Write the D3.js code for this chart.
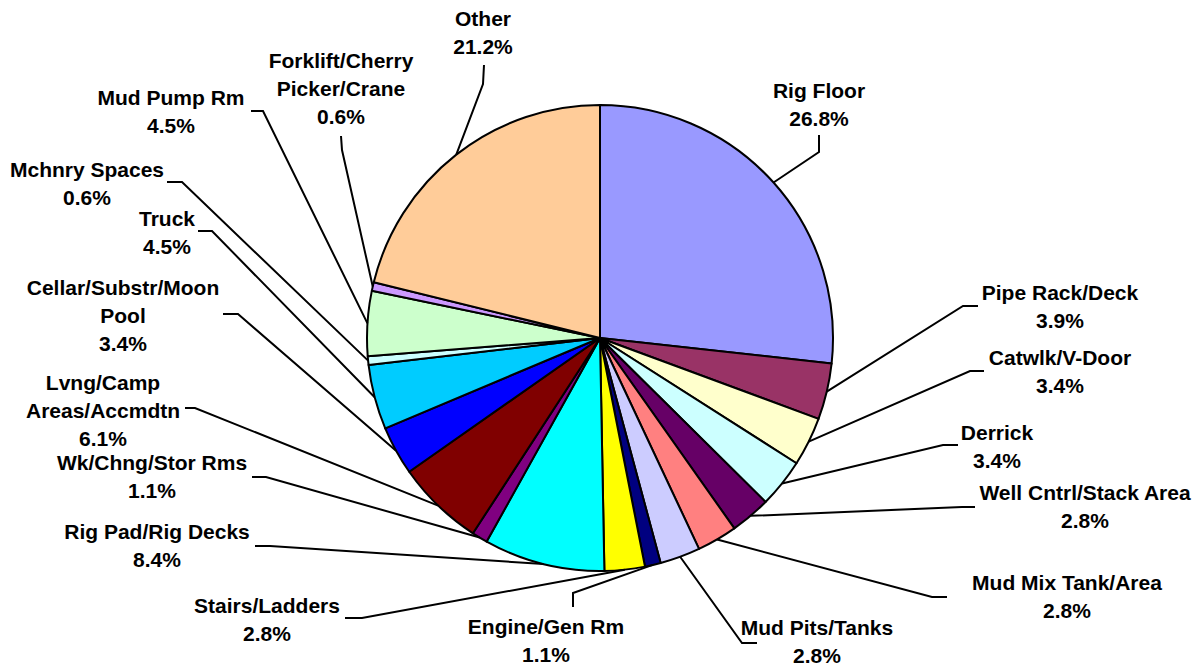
<!DOCTYPE html>
<html>
<head>
<meta charset="utf-8">
<script src="https://cdn.jsdelivr.net/npm/d3@7"></script>
<style>
  html, body { margin: 0; padding: 0; background: #fff; }
  svg { display: block; }
  text { font-family: "Liberation Sans", Arial, sans-serif; font-weight: bold; font-size: 21px; fill: #000; }
</style>
</head>
<body>
<svg id="chart" width="1201" height="666"></svg>
<script>
// ---- data ----
const categories = [
  "Rig Floor", "Pipe Rack/Deck", "Catwlk/V-Door", "Derrick", "Well Cntrl/Stack Area",
  "Mud Mix Tank/Area", "Mud Pits/Tanks", "Engine/Gen Rm", "Stairs/Ladders",
  "Rig Pad/Rig Decks", "Wk/Chng/Stor Rms", "Lvng/Camp\nAreas/Accmdtn",
  "Cellar/Substr/Moon\nPool", "Truck", "Mchnry Spaces", "Mud Pump Rm",
  "Forklift/Cherry\nPicker/Crane", "Other"
];
const values = [26.8, 3.9, 3.4, 3.4, 2.8, 2.8, 2.8, 1.1, 2.8, 8.4, 1.1, 6.1, 3.4, 4.5, 0.6, 4.5, 0.6, 21.2];
const colors = [
  "#9999FF", "#993366", "#FFFFCC", "#CCFFFF", "#660066", "#FF8080", "#CCCCFF", "#000080",
  "#FFFF00", "#00FFFF", "#800080", "#800000", "#0000FF", "#00CCFF", "#CCFFFF", "#CCFFCC",
  "#CC99FF", "#FFCC99"
];

// ---- layout (label placement, not data) ----
const labelPos = [
  [819, 90], [1060, 292], [1060, 357], [997, 432], [1085, 492],
  [1067, 582], [817, 627], [546, 626], [267, 605],
  [157, 531], [152, 462], [103, 382],
  [123, 287], [167, 218], [87, 169], [171, 97],
  [341, 60], [483, 18]
];
const leaderElbows = [
  [[819, 135], [819, 152]], [[978, 306], [963, 306]], [[984, 371], [970, 371]],
  [[958, 445], [943, 445]], [[975, 507], [962, 507]], [[947, 597], [932, 597]],
  [[757, 643], [742, 643]], [[573, 607], [573, 593]], [[345, 618], [362, 618]],
  [[255, 546], [270, 546]], [[252, 477], [266, 477]], [[185, 408], [195, 408]],
  [[223, 314], [238, 314]], [[198, 231], [212, 231]], [[167, 182], [182, 182]],
  [[251, 111], [263, 111]], [[341, 136], [342, 150]], [[484, 65], [483, 84]]
];

const cx = 600, cy = 338, R = 233, lineH = 28;

const svg = d3.select("#chart");
const g = svg.append("g").attr("transform", `translate(${cx},${cy})`);

const pie = d3.pie().sort(null).value(d => d.v);
const data = categories.map((c, i) => ({ name: c, v: values[i], color: colors[i], i }));
const arcs = pie(data);
const arc = d3.arc().innerRadius(0).outerRadius(R);

g.selectAll("path.slice")
  .data(arcs)
  .enter().append("path")
  .attr("class", "slice")
  .attr("d", arc)
  .attr("fill", d => d.data.color)
  .attr("stroke", "#000")
  .attr("stroke-width", 2)
  .attr("stroke-linejoin", "round");

// leader lines
const line = d3.line();
arcs.forEach((a, i) => {
  const mid = (a.startAngle + a.endAngle) / 2;
  const px = cx + R * Math.sin(mid);
  const py = cy - R * Math.cos(mid);
  const pts = leaderElbows[i].concat([[px, py]]);
  svg.append("path")
    .attr("d", line(pts))
    .attr("fill", "none")
    .attr("stroke", "#000")
    .attr("stroke-width", 2);
});

// labels
arcs.forEach((a, i) => {
  const lines = a.data.name.split("\n").concat([d3.format(".1f")(a.data.v) + "%"]);
  const [lx, ly] = labelPos[i];
  const t = svg.append("text").attr("text-anchor", "middle");
  lines.forEach((s, k) => {
    t.append("tspan").attr("x", lx).attr("y", ly + 7.5 + k * lineH).text(s);
  });
});
</script>
</body>
</html>
